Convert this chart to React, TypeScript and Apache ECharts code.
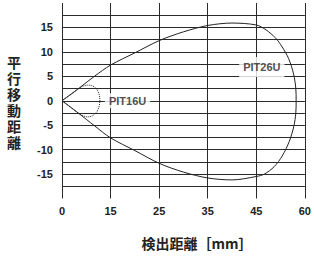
import React, { useEffect, useRef } from "react";
import * as echarts from "echarts";

// x tick labels (evenly spaced columns, mm)
const xTicks = [0, 15, 25, 35, 45, 60];
const yTicks = [-15, -10, -5, 0, 5, 10, 15];

// PIT26U detection area [mm, lateral mm]
const pit26uX = [0, 5.5, 10, 15, 20, 25, 30, 35, 40, 45, 48, 51, 53, 55, 56.5, 57.2, 57.3,
  57.2, 56.6, 55.2, 53, 50.5, 47.5, 45, 40, 35, 30, 25, 20, 15, 10, 5, 0];
const pit26uY = [0, 2.7, 5.0, 7.3, 9.8, 12.3, 14.1, 15.4, 15.9, 15.5, 14.5, 12.8, 11.0, 8.6, 5.5, 2.5, 0,
  -2.5, -5.2, -8.3, -11.3, -13.5, -15.0, -15.5, -16.2, -15.8, -14.6, -12.8, -10.2, -7.6, -5.1, -2.5, 0];

// PIT16U detection area
const pit16uX = [0, 3, 5, 6.5, 8, 9.5, 10.8, 11.5, 11.7, 11.4, 10.6, 9.3, 7.8, 6.3, 5, 3, 0];
const pit16uY = [0, 1.4, 2.4, 3.0, 3.2, 3.0, 2.3, 1.2, 0, -1.3, -2.4, -3.1, -3.3, -3.0, -2.5, -1.5, 0];

const labelNames = ["PIT16U", "PIT26U"];
const labelX = [18.5, 46.7];
const labelY = [0, 6.9];

const yTitleChars = ["平", "行", "移", "動", "距", "離"];

// map mm onto evenly spaced column axis
function toPos(mm: number): number {
  for (let i = 0; i < xTicks.length - 1; i++) {
    const a = xTicks[i];
    const b = xTicks[i + 1];
    if (mm <= b || i === xTicks.length - 2) {
      return i + (mm - a) / (b - a);
    }
  }
  return 0;
}

const FONT = "'Liberation Sans', Arial, 'Noto Sans CJK JP', sans-serif";
const CJK = "'Noto Sans CJK JP', 'Liberation Sans', sans-serif";

export default function App() {
  const ref = useRef<HTMLDivElement>(null);
  useEffect(() => {
    if (!ref.current) return;
    const chart = echarts.init(ref.current, null, { renderer: "svg" });
    const lineColor = "#2a2a2a";
    chart.setOption({
      animation: false,
      backgroundColor: "#fff",
      grid: { left: 62, right: 7, top: 3, bottom: 59.5 },
      xAxis: {
        type: "value",
        min: 0,
        max: xTicks.length - 1,
        interval: 1,
        axisLine: { show: false },
        axisTick: { show: false },
        splitLine: { show: true, lineStyle: { color: lineColor, width: 1 } },
        axisLabel: {
          margin: 7,
          fontFamily: FONT,
          fontSize: 11,
          fontWeight: "bold",
          color: "#222",
          formatter: (v: number) => String(xTicks[Math.round(v)] ?? ""),
        },
      },
      yAxis: {
        type: "value",
        min: -20,
        max: 20,
        interval: 2.5,
        axisLine: { show: false },
        axisTick: { show: false },
        splitLine: {
          show: true,
          showMinLine: false,
          showMaxLine: false,
          lineStyle: { color: lineColor, width: 1 },
        },
        axisLabel: {
          margin: 9,
          fontFamily: FONT,
          fontSize: 11,
          fontWeight: "bold",
          color: "#222",
          formatter: (v: number) => (yTicks.includes(v) ? String(v) : ""),
        },
      },
      graphic: [
        {
          type: "text",
          x: 197,
          y: 243,
          style: {
            text: "検出距離［mm］",
            fontFamily: CJK,
            fontSize: 14,
            fontWeight: "bold",
            fill: "#222",
            textAlign: "center",
            textVerticalAlign: "middle",
          },
        },
        ...yTitleChars.map((c, i) => ({
          type: "text",
          x: 14,
          y: 62 + i * 16,
          style: {
            text: c,
            fontFamily: CJK,
            fontSize: 14,
            fontWeight: "bold",
            fill: "#222",
            textAlign: "center",
            textVerticalAlign: "middle",
          },
        })),
      ],
      series: [
        {
          type: "line",
          name: "PIT26U",
          data: pit26uX.map((x, i) => [toPos(x), pit26uY[i]]),
          smooth: 0.3,
          showSymbol: false,
          lineStyle: { color: "#222", width: 1 },
          z: 3,
        },
        {
          type: "line",
          name: "PIT16U",
          data: pit16uX.map((x, i) => [toPos(x), pit16uY[i]]),
          smooth: 0.3,
          showSymbol: false,
          lineStyle: { color: "#222", width: 1, type: "dotted" },
          z: 3,
        },
        {
          type: "scatter",
          symbolSize: 0,
          z: 5,
          data: labelNames.map((n, i) => ({
            name: n,
            value: [toPos(labelX[i]), labelY[i]],
            label: {
              padding: i === 0 ? [2, 4, 2, 4] : [6, 4, 3, 4],
            },
          })),
          label: {
            show: true,
            position: "inside",
            formatter: "{b}",
            fontFamily: FONT,
            fontSize: 11,
            fontWeight: "bold",
            color: "#222",
            backgroundColor: "#fff",
          },
        },
      ],
    });
    return () => chart.dispose();
  }, []);
  return (
    <div
      ref={ref}
      style={{ position: "fixed", left: 0, top: 0, width: 314, height: 258 }}
    />
  );
}
